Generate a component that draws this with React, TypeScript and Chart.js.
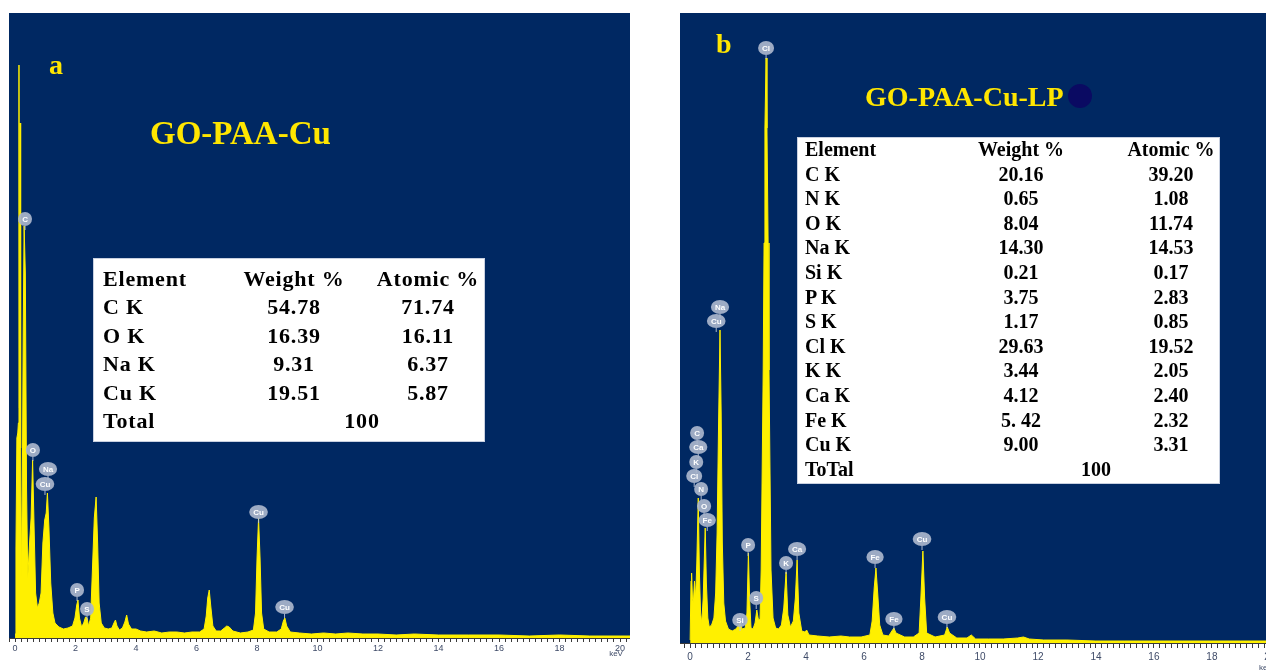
import React, { useEffect, useRef } from 'react';
import { Chart, registerables } from 'chart.js';

Chart.register(...registerables);

const NAVY = '#002862';
const YELLOW = '#fff000';
const TITLE_YELLOW = '#ffe600';
const TICK_COLOR = '#3f4b68';
const AXIS_COLOR = '#3a3a3a';
const SERIF = '"Liberation Serif", "Times New Roman", Times, serif';
const SANS = '"Liberation Sans", Arial, Helvetica, sans-serif';

// ---------- Panel a: GO-PAA-Cu spectrum (energy keV, counts) ----------
const kevA = [
  0.0, 0.03, 0.06, 0.09, 0.11, 0.13, 0.145, 0.165, 0.185, 0.21,
  0.24, 0.27, 0.3, 0.34, 0.38, 0.42, 0.48, 0.53, 0.58, 0.63,
  0.68, 0.74, 0.8, 0.86, 0.92, 0.98, 1.03, 1.07, 1.12, 1.18,
  1.25, 1.32, 1.45, 1.6, 1.75, 1.9, 1.98, 2.04, 2.08, 2.13,
  2.2, 2.27, 2.33, 2.38, 2.43, 2.5, 2.56, 2.62, 2.68, 2.73,
  2.78, 2.85, 2.95, 3.08, 3.2, 3.27, 3.32, 3.37, 3.45, 3.55,
  3.63, 3.69, 3.75, 3.85, 4.0, 4.15, 4.35, 4.6, 4.85, 5.1,
  5.35, 5.6, 5.85, 6.1, 6.25, 6.32, 6.37, 6.42, 6.47, 6.54,
  6.65, 6.8, 6.92, 7.0, 7.08, 7.2, 7.45, 7.7, 7.88, 7.95,
  8.0, 8.05, 8.1, 8.15, 8.22, 8.4, 8.65, 8.8, 8.87, 8.92,
  8.98, 9.1, 9.4, 9.8, 10.2, 10.6, 11.0, 11.5, 12.0, 12.6,
  13.2, 14.0, 15.0, 16.0, 17.0, 18.0, 19.0, 20.0, 20.33,
];
const cntA = [
  4, 90, 200, 205, 215, 573, 230, 515, 190, 60,
  150, 305, 412, 365, 150, 60, 95, 120, 178, 110,
  45, 30, 35, 45, 95, 118, 125, 145, 110, 55,
  25, 15, 11, 9, 10, 12, 20, 33, 38, 20,
  11, 15, 21, 20, 12, 20, 70, 120, 141, 95,
  35, 15, 10, 9, 10, 15, 18, 12, 8, 10,
  16, 23, 14, 9, 9, 7, 6, 7, 5, 6,
  6, 5, 6, 6, 9, 22, 40, 48, 32, 12,
  7, 7, 10, 12, 11, 7, 5, 6, 8, 25,
  80, 120, 80, 25, 9, 6, 6, 9, 17, 20,
  12, 6, 5, 4, 5, 4, 5, 4, 4, 3,
  4, 3, 3, 3, 2, 3, 2, 2, 2,
];
const peakNamesA = ['C', 'O', 'Na', 'Cu', 'P', 'S', 'Cu', 'Cu'];
const peakKevA = [0.33, 0.59, 1.09, 0.99, 2.05, 2.38, 8.05, 8.91];
const peakCntA = [419, 188, 169, 154, 48, 29, 126, 31];

const elementsA = ['C K', 'O K', 'Na K', 'Cu K'];
const weightA = ['54.78', '16.39', '9.31', '19.51'];
const atomicA = ['71.74', '16.11', '6.37', '5.87'];
const totalA = '100';

// ---------- Panel b: GO-PAA-Cu-LP spectrum ----------
const kevB = [
  0.0, 0.03, 0.05, 0.08, 0.11, 0.15, 0.19, 0.23, 0.28, 0.32,
  0.36, 0.4, 0.45, 0.49, 0.52, 0.56, 0.61, 0.66, 0.74, 0.82,
  0.88, 0.93, 0.98, 1.03, 1.07, 1.11, 1.16, 1.22, 1.32, 1.45,
  1.58, 1.68, 1.73, 1.79, 1.9, 1.96, 2.01, 2.05, 2.1, 2.17,
  2.24, 2.3, 2.35, 2.41, 2.45, 2.52, 2.55, 2.58, 2.62, 2.65,
  2.69, 2.72, 2.79, 2.86, 2.95, 3.05, 3.15, 3.23, 3.31, 3.37,
  3.46, 3.56, 3.63, 3.69, 3.75, 3.85, 3.96, 4.02, 4.1, 4.4,
  4.8, 5.2, 5.5, 5.9, 6.2, 6.28, 6.35, 6.41, 6.47, 6.54,
  6.65, 6.85, 6.96, 7.03, 7.1, 7.4, 7.7, 7.9, 7.96, 8.03,
  8.09, 8.16, 8.45, 8.78, 8.87, 8.95, 9.2, 9.55, 9.7, 9.85,
  10.3, 10.8, 11.3, 11.5, 11.7, 12.2, 13.0, 14.0, 15.0, 16.0,
  17.0, 18.0, 19.0, 20.35,
];
const cntB = [
  3, 62, 70, 45, 40, 62, 45, 80, 145, 70,
  30, 20, 45, 85, 115, 60, 25, 16, 18, 25,
  50, 110, 218, 313, 230, 100, 40, 22, 14, 12,
  14, 18, 21, 14, 15, 30, 90, 45, 15, 14,
  20, 33, 24, 23, 73, 273, 400, 515, 585, 515,
  400, 273, 73, 25, 15, 14, 18, 35, 71, 28,
  16, 22, 45, 83, 30, 12, 11, 13, 8, 7,
  6, 7, 6, 6, 8, 22, 55, 75, 50, 18,
  8, 7, 12, 15, 10, 6, 6, 10, 45, 92,
  45, 10, 6, 8, 16, 10, 5, 5, 8, 4,
  4, 4, 5, 6, 4, 3, 3, 2, 2, 2,
  2, 2, 2, 2,
];
const peakNamesB = ['Cl', 'Na', 'Cu', 'C', 'Ca', 'K', 'Cl', 'N', 'O', 'Fe', 'P', 'Si', 'S', 'K', 'Ca', 'Fe', 'Fe', 'Cu', 'Cu'];
const peakKevB = [2.62, 1.03, 0.9, 0.24, 0.28, 0.21, 0.14, 0.38, 0.48, 0.59, 2.0, 1.72, 2.28, 3.31, 3.69, 6.38, 7.03, 8.0, 8.86];
const peakCntB = [595, 336, 322, 210, 196, 181, 167, 154, 137, 123, 98, 23, 45, 80, 94, 86, 24, 104, 26];

const elementsB = ['C K', 'N K', 'O K', 'Na K', 'Si K', 'P K', 'S K', 'Cl K', 'K K', 'Ca K', 'Fe K', 'Cu K'];
const weightB = ['20.16', '0.65', '8.04', '14.30', '0.21', '3.75', '1.17', '29.63', '3.44', '4.12', '5. 42', '9.00'];
const atomicB = ['39.20', '1.08', '11.74', '14.53', '0.17', '2.83', '0.85', '19.52', '2.05', '2.40', '2.32', '3.31'];
const totalB = '100';

type SpectrumProps = {
  kev: number[];
  cnt: number[];
  peakNames: string[];
  peakKev: number[];
  peakCnt: number[];
  xMin: number;
  xMax: number;
  yMax: number;
  left: number;
  width: number;
  height: number;
  padTop: number;
  padBottom: number;
  tickLen: number;
  tickPad: number;
  fontSize: number;
  unitDy: number;
};

function drawBubble(ctx: CanvasRenderingContext2D, x: number, y: number, text: string) {
  ctx.save();
  ctx.font = `bold 8px ${SANS}`;
  const tw = ctx.measureText(text).width;
  const ry = 7;
  const rx = Math.max(7, tw / 2 + 4);
  ctx.strokeStyle = 'rgba(190,200,218,0.9)';
  ctx.lineWidth = 1;
  ctx.beginPath();
  ctx.moveTo(x, y + ry);
  ctx.lineTo(x, y + ry + 4);
  ctx.stroke();
  ctx.fillStyle = 'rgba(170,182,204,0.92)';
  ctx.beginPath();
  ctx.ellipse(x, y, rx, ry, 0, 0, Math.PI * 2);
  ctx.fill();
  ctx.fillStyle = '#ffffff';
  ctx.textAlign = 'center';
  ctx.textBaseline = 'middle';
  ctx.fillText(text, x, y + 0.5);
  ctx.restore();
}

function Spectrum(p: SpectrumProps) {
  const ref = useRef<HTMLCanvasElement>(null);
  useEffect(() => {
    const canvas = ref.current;
    if (!canvas) return;
    const bg = {
      id: 'navyBg',
      beforeDraw(chart: any) {
        const { ctx, chartArea: a } = chart;
        ctx.save();
        ctx.fillStyle = NAVY;
        ctx.fillRect(a.left, a.top, a.right - a.left, a.bottom - a.top);
        ctx.restore();
      },
    };
    const marks = {
      id: 'peakMarks',
      afterDatasetsDraw(chart: any) {
        const xs = chart.scales.x;
        const ys = chart.scales.y;
        const ctx = chart.ctx;
        p.peakNames.forEach((name, i) => {
          drawBubble(ctx, xs.getPixelForValue(p.peakKev[i]), ys.getPixelForValue(p.peakCnt[i]), name);
        });
      },
      afterDraw(chart: any) {
        const xs = chart.scales.x;
        const ctx = chart.ctx;
        ctx.save();
        ctx.font = `8px ${SANS}`;
        ctx.fillStyle = TICK_COLOR;
        ctx.textAlign = 'center';
        ctx.textBaseline = 'middle';
        ctx.fillText('keV', xs.getPixelForValue(20) - 4, chart.chartArea.bottom + p.unitDy);
        ctx.restore();
      },
    };
    const chart = new Chart(canvas, {
      type: 'line',
      data: {
        datasets: [
          {
            data: p.kev.map((k, i) => ({ x: k, y: p.cnt[i] })),
            borderColor: YELLOW,
            backgroundColor: YELLOW,
            borderWidth: 1,
            pointRadius: 0,
            fill: 'origin',
            tension: 0,
          },
        ],
      },
      options: {
        responsive: false,
        animation: false,
        devicePixelRatio: 1,
        events: [],
        layout: { padding: { top: p.padTop, bottom: p.padBottom, left: 0, right: 0 } },
        plugins: { legend: { display: false }, tooltip: { enabled: false } },
        scales: {
          x: {
            type: 'linear',
            min: p.xMin,
            max: p.xMax,
            afterFit: (s: any) => {
              s.height = 24;
            },
            ticks: {
              stepSize: 0.2,
              autoSkip: false,
              maxRotation: 0,
              includeBounds: false,
              padding: p.tickPad,
              color: TICK_COLOR,
              font: { size: p.fontSize, family: SANS },
              callback: (v: any) => {
                const n = Number(v);
                const r = Math.round(n);
                return Math.abs(n - r) < 1e-6 && r % 2 === 0 && r >= 0 ? String(r) : '';
              },
            },
            grid: { drawOnChartArea: false, drawTicks: true, tickLength: p.tickLen, color: AXIS_COLOR, lineWidth: 1 },
            border: { display: true, color: AXIS_COLOR, width: 1 },
          },
          y: { display: false, min: 0, max: p.yMax },
        },
      } as any,
      plugins: [bg, marks],
    });
    return () => chart.destroy();
  }, []);
  return (
    <canvas
      ref={ref}
      width={p.width}
      height={p.height}
      style={{ position: 'absolute', left: p.left, top: 0, width: p.width, height: p.height }}
    />
  );
}

type TProps = { x: number; base: number; size: number; align?: 'left' | 'center'; color?: string; children: React.ReactNode; spacing?: number };

function T({ x, base, size, align = 'left', color = '#000', children, spacing = 0 }: TProps) {
  const style: React.CSSProperties = {
    position: 'absolute',
    top: base - 0.8375 * size,
    left: align === 'center' ? x - 80 : x,
    width: align === 'center' ? 160 : undefined,
    textAlign: align,
    fontFamily: SERIF,
    fontWeight: 'bold',
    fontSize: size,
    lineHeight: `${size}px`,
    whiteSpace: 'pre',
    color,
    letterSpacing: spacing,
  };
  return <div style={style}>{children}</div>;
}

export default function App() {
  const rowA0 = 278;
  const rowAStep = 28.5;
  const rowB0 = 147.7;
  const rowBStep = 24.6;
  return (
    <div style={{ position: 'fixed', left: 0, top: 0, width: 1266, height: 670, overflow: 'hidden', background: '#fff' }}>
      <style>{'html{overflow:hidden}'}</style>
      <div style={{ position: 'absolute', left: 8, top: 8, width: 1258, height: 662 }}>
        <Spectrum
          kev={kevA}
          cnt={cntA}
          peakNames={peakNamesA}
          peakKev={peakKevA}
          peakCnt={peakCntA}
          xMin={-0.2}
          xMax={20.33}
          yMax={625}
          left={0}
          width={622}
          height={662}
          padTop={5}
          padBottom={8}
          tickLen={4}
          tickPad={1}
          fontSize={9}
          unitDy={16}
        />
        <Spectrum
          kev={kevB}
          cnt={cntB}
          peakNames={peakNamesB}
          peakKev={peakKevB}
          peakCnt={peakCntB}
          xMin={-0.35}
          xMax={20.35}
          yMax={630}
          left={672}
          width={600}
          height={662}
          padTop={5}
          padBottom={3}
          tickLen={5}
          tickPad={3}
          fontSize={10}
          unitDy={25}
        />

        {/* Panel a titles */}
        <T x={41} base={66} size={28} color={TITLE_YELLOW}>a</T>
        <T x={142} base={137} size={33} color={TITLE_YELLOW}>GO-PAA-Cu</T>

        {/* Panel a table */}
        <div style={{ position: 'absolute', left: 85, top: 250, width: 392, height: 184, background: '#fff', border: '1px solid #c8d0e0', boxSizing: 'border-box' }} />
        <T x={95} base={rowA0} size={22} spacing={0.8}>Element</T>
        <T x={286} base={rowA0} size={22} align="center" spacing={0.8}>Weight %</T>
        <T x={420} base={rowA0} size={22} align="center" spacing={0.8}>Atomic %</T>
        {elementsA.map((el, i) => (
          <React.Fragment key={'a' + i}>
            <T x={95} base={rowA0 + (i + 1) * rowAStep} size={22} spacing={0.8}>{el}</T>
            <T x={286} base={rowA0 + (i + 1) * rowAStep} size={22} align="center" spacing={0.8}>{weightA[i]}</T>
            <T x={420} base={rowA0 + (i + 1) * rowAStep} size={22} align="center" spacing={0.8}>{atomicA[i]}</T>
          </React.Fragment>
        ))}
        <T x={95} base={rowA0 + 5 * rowAStep} size={22} spacing={0.8}>Total</T>
        <T x={354} base={rowA0 + 5 * rowAStep} size={22} align="center" spacing={0.8}>{totalA}</T>

        {/* Panel b titles */}
        <T x={708} base={45} size={28} color={TITLE_YELLOW}>b</T>
        <T x={857} base={98} size={28} color={TITLE_YELLOW}>GO-PAA-Cu-LP</T>
        <div style={{ position: 'absolute', left: 1060, top: 76, width: 24, height: 24, borderRadius: 12, background: '#0a0a62' }} />

        {/* Panel b table */}
        <div style={{ position: 'absolute', left: 789, top: 129, width: 423, height: 347, background: '#fff', border: '1px solid #c8d0e0', boxSizing: 'border-box' }} />
        <T x={797} base={rowB0} size={20}>Element</T>
        <T x={1013} base={rowB0} size={20} align="center">Weight %</T>
        <T x={1163} base={rowB0} size={20} align="center">Atomic %</T>
        {elementsB.map((el, i) => (
          <React.Fragment key={'b' + i}>
            <T x={797} base={rowB0 + (i + 1) * rowBStep} size={20}>{el}</T>
            <T x={1013} base={rowB0 + (i + 1) * rowBStep} size={20} align="center">{weightB[i]}</T>
            <T x={1163} base={rowB0 + (i + 1) * rowBStep} size={20} align="center">{atomicB[i]}</T>
          </React.Fragment>
        ))}
        <T x={797} base={rowB0 + 13 * rowBStep} size={20}>ToTal</T>
        <T x={1088} base={rowB0 + 13 * rowBStep} size={20} align="center">{totalB}</T>
      </div>
    </div>
  );
}
